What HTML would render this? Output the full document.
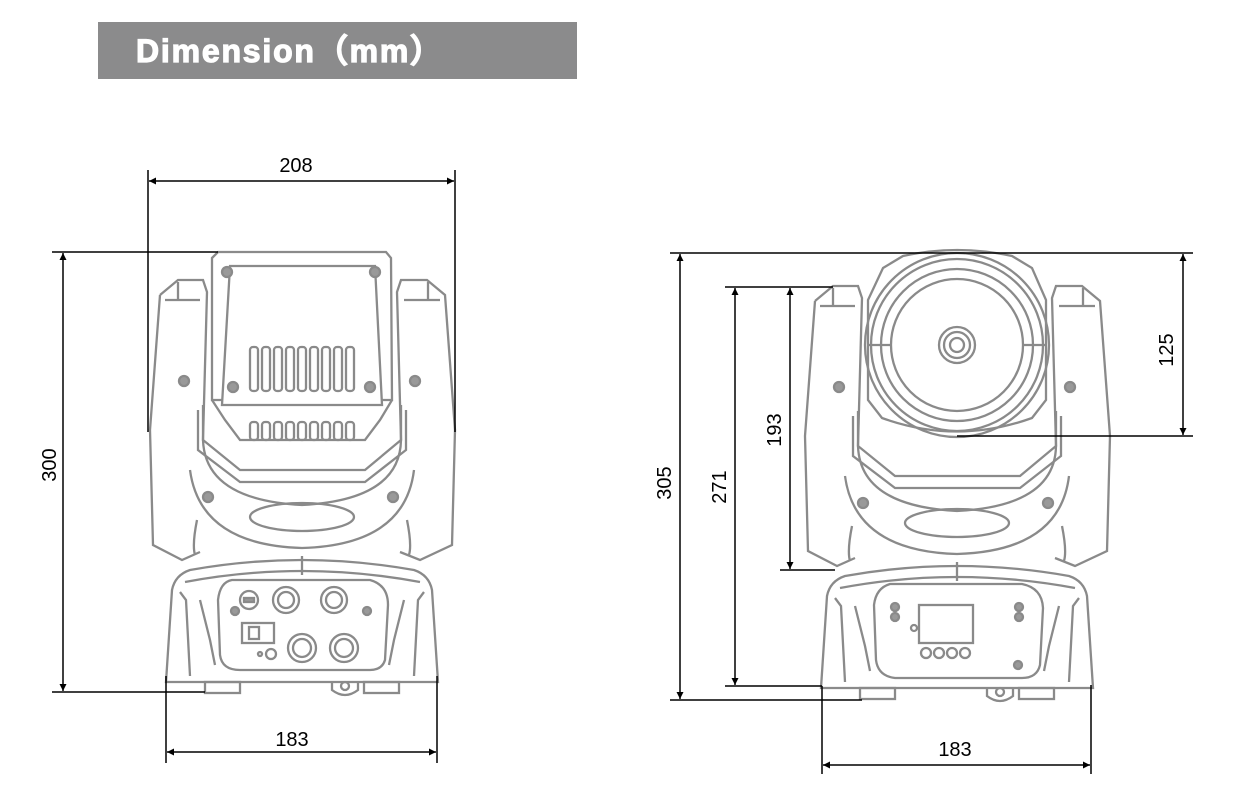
<!DOCTYPE html>
<html><head><meta charset="utf-8"><style>
html,body{margin:0;padding:0;background:#fff;}
svg{display:block}
</style></head><body>
<svg width="1253" height="802" viewBox="0 0 1253 802" xmlns="http://www.w3.org/2000/svg">
<defs>
<marker id="a" viewBox="0 0 10 10" refX="10" refY="5" markerWidth="13" markerHeight="7" orient="auto-start-reverse" markerUnits="userSpaceOnUse"><path d="M0,0 L10,5 L0,10 Z" fill="#000"/></marker>
<g id="yoke" fill="none" stroke="#8a8a8a" stroke-width="2.3">
  <path d="M160,295 L178,280 L203,280 L207,292 L203,440 Q205,500 302,505 Q400,500 401,440 L397,292 L401,280 L427,280 L445,295 L455,430 L452,545 L420,560 L400,552"/>
  <path d="M160,295 L150,430 L153,545 L182,560 L200,552"/>
  <path d="M165,300 L200,300 M404,300 L440,300"/>
  <path d="M178,282 L178,300 M428,282 L428,300"/>
  <path d="M190,470 Q200,545 302,548 Q405,545 414,470"/>
  <path d="M197,520 Q192,545 195,555 M407,520 Q412,545 409,555"/>
  <ellipse cx="302" cy="517" rx="52" ry="14"/>
  <path d="M203,405 L203,440 L240,470 L365,470 L401,440 L401,405"/>
  <path d="M198,410 L198,450 L240,482 L365,482 L406,450 L406,410"/>
  <path d="M172,590 Q175,575 190,570 Q302,550 414,570 Q429,575 432,590 L438,682 L166,682 Z"/>
  <path d="M185,582 Q302,560 420,582"/>
  <path d="M302,556 L302,575"/>
  <path d="M180,592 L186,600 L190,676 M424,592 L418,600 L414,676"/>
  <path d="M200,600 L210,640 L215,665 M404,600 L394,640 L389,665"/>
  <rect x="205" y="682" width="35" height="11"/>
  <rect x="364" y="682" width="35" height="11"/>
  <path d="M332,682 L332,690 Q345,700 358,690 L358,682"/>
  <circle cx="345" cy="686" r="4"/>
  <circle cx="184" cy="381" r="5" fill="#999"/>
  <circle cx="415" cy="381" r="5" fill="#999"/>
  <circle cx="208" cy="497" r="5" fill="#999"/>
  <circle cx="393" cy="497" r="5" fill="#999"/>
</g>
</defs>

<rect x="98" y="22" width="479" height="57" fill="#8b8b8c"/>
<text x="136" y="62" font-family="Liberation Sans, DejaVu Sans, sans-serif" font-weight="bold" font-size="32" fill="#fff" stroke="#fff" stroke-width="1.2" letter-spacing="1.8">Dimension（mm）</text>

<use href="#yoke"/>
<g fill="none" stroke="#8a8a8a" stroke-width="2.3">
  <path d="M212,258 L218,252 L386,252 L391,258 L392,400 L212,400 Z"/>
  <path d="M230,266 L375,266 L382,405 L222,405 Z" fill="#fff"/>
  <path d="M212,400 L225,420 L240,440 L365,440 L380,420 L392,400"/>
  <g>
    <rect x="250" y="347" width="8" height="44" rx="3"/><rect x="262" y="347" width="8" height="44" rx="3"/>
    <rect x="274" y="347" width="8" height="44" rx="3"/><rect x="286" y="347" width="8" height="44" rx="3"/>
    <rect x="298" y="347" width="8" height="44" rx="3"/><rect x="310" y="347" width="8" height="44" rx="3"/>
    <rect x="322" y="347" width="8" height="44" rx="3"/><rect x="334" y="347" width="8" height="44" rx="3"/>
    <rect x="346" y="347" width="8" height="44" rx="3"/>
    <rect x="250" y="422" width="8" height="18" rx="3"/><rect x="262" y="422" width="8" height="18" rx="3"/>
    <rect x="274" y="422" width="8" height="18" rx="3"/><rect x="286" y="422" width="8" height="18" rx="3"/>
    <rect x="298" y="422" width="8" height="18" rx="3"/><rect x="310" y="422" width="8" height="18" rx="3"/>
    <rect x="322" y="422" width="8" height="18" rx="3"/><rect x="334" y="422" width="8" height="18" rx="3"/>
    <rect x="346" y="422" width="8" height="18" rx="3"/>
  </g>
  <circle cx="227" cy="272" r="5" fill="#999"/><circle cx="375" cy="272" r="5" fill="#999"/>
  <circle cx="233" cy="387" r="5" fill="#999"/><circle cx="370" cy="387" r="5" fill="#999"/>
  <path d="M232,580 L370,580 Q388,585 388,605 L385,660 Q382,670 370,670 L240,670 Q222,670 220,655 L218,600 Q220,582 232,580 Z"/>
  <circle cx="249" cy="600" r="9"/><rect x="244" y="598" width="10" height="4" fill="#999"/>
  <circle cx="286" cy="600" r="13"/><circle cx="286" cy="600" r="8"/>
  <circle cx="334" cy="600" r="13"/><circle cx="334" cy="600" r="8"/>
  <rect x="242" y="623" width="32" height="20"/><rect x="249" y="627" width="10" height="12"/>
  <circle cx="302" cy="648" r="14"/><circle cx="302" cy="648" r="9"/>
  <circle cx="344" cy="648" r="14"/><circle cx="344" cy="648" r="9"/>
  <circle cx="271" cy="654" r="5"/><circle cx="260" cy="654" r="2"/>
  <circle cx="235" cy="611" r="4" fill="#999"/><circle cx="367" cy="611" r="4" fill="#999"/>
</g>

<use href="#yoke" transform="translate(655,6)"/>
<g fill="none" stroke="#8a8a8a" stroke-width="2.3">
  <path d="M883,268 L903,256 Q957,244 1012,256 L1032,268 L1046,300 L1046,400 L1032,418 Q957,445 882,418 L868,400 L868,300 Z" fill="#fff"/>
  <circle cx="957" cy="345" r="92"/>
  <circle cx="957" cy="345" r="86"/>
  <circle cx="957" cy="345" r="76"/>
  <circle cx="957" cy="345" r="66"/>
  <circle cx="957" cy="345" r="18"/>
  <circle cx="957" cy="345" r="13"/>
  <circle cx="957" cy="345" r="7"/>
  <path d="M868,345 L891,345 M1023,345 L1046,345"/>
  <path d="M890,584 L1022,584 Q1042,588 1043,608 L1040,665 Q1037,678 1022,678 L895,678 Q878,676 876,660 L874,605 Q876,588 890,584 Z"/>
  <rect x="919" y="605" width="54" height="38"/>
  <circle cx="926" cy="653" r="5"/><circle cx="939" cy="653" r="5"/><circle cx="952" cy="653" r="5"/><circle cx="965" cy="653" r="5"/>
  <circle cx="895" cy="607" r="4" fill="#999"/><circle cx="895" cy="617" r="4" fill="#999"/>
  <circle cx="1019" cy="607" r="4" fill="#999"/><circle cx="1019" cy="617" r="4" fill="#999"/>
  <circle cx="1018" cy="665" r="4" fill="#999"/><circle cx="914" cy="628" r="3"/>
</g>

<g stroke="#000" stroke-width="1.5" fill="none">
  <line x1="148" y1="170" x2="148" y2="432"/><line x1="455" y1="170" x2="455" y2="432"/>
  <line x1="149" y1="181" x2="454" y2="181" marker-start="url(#a)" marker-end="url(#a)"/>
  <line x1="52" y1="252" x2="218" y2="252"/><line x1="52" y1="692" x2="205" y2="692"/>
  <line x1="63" y1="253" x2="63" y2="691" marker-start="url(#a)" marker-end="url(#a)"/>
  <line x1="166" y1="676" x2="166" y2="763"/><line x1="437" y1="676" x2="437" y2="763"/>
  <line x1="167" y1="752" x2="436" y2="752" marker-start="url(#a)" marker-end="url(#a)"/>
  <line x1="670" y1="253" x2="1193" y2="253"/><line x1="670" y1="700" x2="862" y2="700"/>
  <line x1="680" y1="254" x2="680" y2="699" marker-start="url(#a)" marker-end="url(#a)"/>
  <line x1="725" y1="287" x2="833" y2="287"/><line x1="725" y1="686" x2="822" y2="686"/>
  <line x1="735" y1="288" x2="735" y2="685" marker-start="url(#a)" marker-end="url(#a)"/>
  <line x1="780" y1="570" x2="835" y2="570"/>
  <line x1="790" y1="288" x2="790" y2="569" marker-start="url(#a)" marker-end="url(#a)"/>
  <line x1="957" y1="436" x2="1193" y2="436"/>
  <line x1="1183" y1="254" x2="1183" y2="435" marker-start="url(#a)" marker-end="url(#a)"/>
  <line x1="822" y1="686" x2="822" y2="774"/><line x1="1091" y1="685" x2="1091" y2="774"/>
  <line x1="823" y1="765" x2="1090" y2="765" marker-start="url(#a)" marker-end="url(#a)"/>
</g>
<g font-family="Liberation Sans, Arial, sans-serif" font-size="20" fill="#000" text-anchor="middle">
  <text x="296" y="172">208</text>
  <text x="292" y="746">183</text>
  <text x="955" y="756">183</text>
  <text transform="translate(56,465) rotate(-90)">300</text>
  <text transform="translate(671,483) rotate(-90)">305</text>
  <text transform="translate(726,487) rotate(-90)">271</text>
  <text transform="translate(781,430) rotate(-90)">193</text>
  <text transform="translate(1173,350) rotate(-90)">125</text>
</g>
</svg>
</body></html>
